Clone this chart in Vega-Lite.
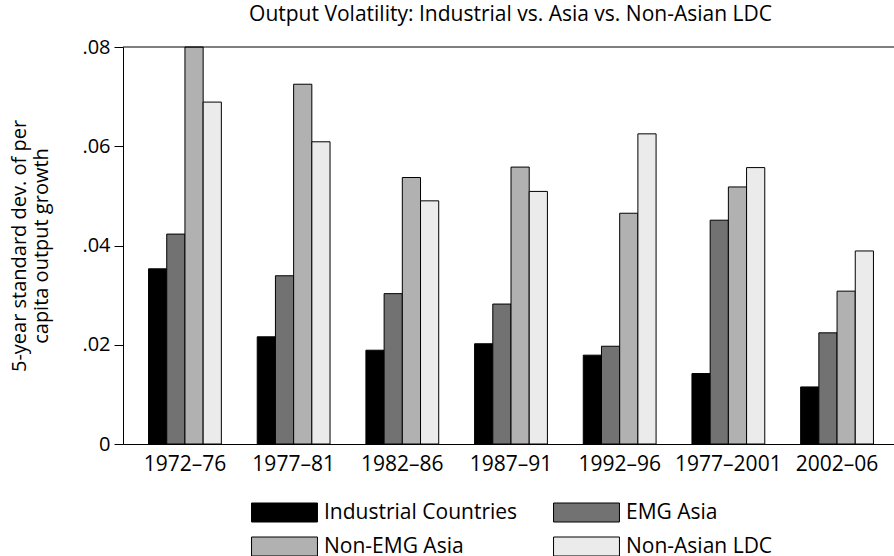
{
  "$schema": "https://vega.github.io/schema/vega-lite/v6.json",
  "autosize": "none",
  "padding": {"left": 123, "top": 47, "right": 0, "bottom": 112},
  "width": 771,
  "height": 397,
  "background": "white",
  "config": {"view": {"stroke": null}, "font": "Open Sans"},
  "title": {"text": "Output Volatility: Industrial vs. Asia vs. Non-Asian LDC", "fontSize": 21, "fontWeight": "normal", "color": "black", "anchor": "middle", "offset": 12, "dx": 2},
  "layer": [
    {
      "data": {"values": [
        {"period": "1972–76", "group": "Industrial Countries", "value": 0.0353},
        {"period": "1972–76", "group": "EMG Asia", "value": 0.0423},
        {"period": "1972–76", "group": "Non-EMG Asia", "value": 0.0800},
        {"period": "1972–76", "group": "Non-Asian LDC", "value": 0.0689},
        {"period": "1977–81", "group": "Industrial Countries", "value": 0.0216},
        {"period": "1977–81", "group": "EMG Asia", "value": 0.0339},
        {"period": "1977–81", "group": "Non-EMG Asia", "value": 0.0725},
        {"period": "1977–81", "group": "Non-Asian LDC", "value": 0.0609},
        {"period": "1982–86", "group": "Industrial Countries", "value": 0.0189},
        {"period": "1982–86", "group": "EMG Asia", "value": 0.0303},
        {"period": "1982–86", "group": "Non-EMG Asia", "value": 0.0537},
        {"period": "1982–86", "group": "Non-Asian LDC", "value": 0.0490},
        {"period": "1987–91", "group": "Industrial Countries", "value": 0.0202},
        {"period": "1987–91", "group": "EMG Asia", "value": 0.0282},
        {"period": "1987–91", "group": "Non-EMG Asia", "value": 0.0558},
        {"period": "1987–91", "group": "Non-Asian LDC", "value": 0.0509},
        {"period": "1992–96", "group": "Industrial Countries", "value": 0.0179},
        {"period": "1992–96", "group": "EMG Asia", "value": 0.0197},
        {"period": "1992–96", "group": "Non-EMG Asia", "value": 0.0465},
        {"period": "1992–96", "group": "Non-Asian LDC", "value": 0.0625},
        {"period": "1977–2001", "group": "Industrial Countries", "value": 0.0142},
        {"period": "1977–2001", "group": "EMG Asia", "value": 0.0451},
        {"period": "1977–2001", "group": "Non-EMG Asia", "value": 0.0518},
        {"period": "1977–2001", "group": "Non-Asian LDC", "value": 0.0557},
        {"period": "2002–06", "group": "Industrial Countries", "value": 0.0115},
        {"period": "2002–06", "group": "EMG Asia", "value": 0.0224},
        {"period": "2002–06", "group": "Non-EMG Asia", "value": 0.0308},
        {"period": "2002–06", "group": "Non-Asian LDC", "value": 0.0389}
      ]},
      "mark": {"type": "bar", "stroke": "black", "strokeWidth": 1},
      "encoding": {
        "x": {
          "field": "period", "type": "nominal",
          "sort": ["1972–76", "1977–81", "1982–86", "1987–91", "1992–96", "1977–2001", "2002–06"],
          "scale": {"range": [0, 776], "paddingInner": 0.33, "paddingOuter": 0.235},
          "axis": {"title": null, "labelAngle": 0, "ticks": false, "labelFontSize": 21, "labelColor": "black", "labelPadding": 9, "domainColor": "black", "domainWidth": 1}
        },
        "xOffset": {
          "field": "group", "type": "nominal",
          "sort": ["Industrial Countries", "EMG Asia", "Non-EMG Asia", "Non-Asian LDC"],
          "scale": {"paddingInner": 0, "paddingOuter": 0}
        },
        "y": {
          "field": "value", "type": "quantitative",
          "scale": {"domain": [0, 0.08], "nice": false},
          "axis": {
            "values": [0, 0.02, 0.04, 0.06, 0.08],
            "labelExpr": "datum.value == 0 ? '0' : replace(format(datum.value, '.2f'), '0.', '.')",
            "grid": false, "tickSize": 9, "tickColor": "black", "domainColor": "black",
            "labelFontSize": 20, "labelColor": "black", "labelPadding": 4,
            "title": ["5-year standard dev. of per", "capita output growth"],
            "titleFontSize": 20, "titleFontWeight": "normal", "titleColor": "black", "titleLineHeight": 22, "titlePadding": 30
          }
        },
        "color": {
          "field": "group", "type": "nominal",
          "sort": ["Industrial Countries", "EMG Asia", "Non-EMG Asia", "Non-Asian LDC"],
          "scale": {"domain": ["Industrial Countries", "EMG Asia", "Non-EMG Asia", "Non-Asian LDC"], "range": ["#000000", "#727272", "#b1b1b1", "#ebebeb"]},
          "legend": {
            "title": null, "orient": "none", "legendX": 151, "legendY": 455, "direction": "horizontal", "columns": 2,
            "symbolType": "M-3.47,-1H3.47V1H-3.47Z", "symbolSize": 361, "symbolStrokeColor": "black", "symbolStrokeWidth": 1, "symbolOpacity": 1,
            "labelFontSize": 21, "labelColor": "black", "labelOffset": 29, "columnPadding": 33, "rowPadding": 11, "padding": 0, "labelLimit": 400
          }
        }
      }
    },
    {
      "data": {"values": [{}]},
      "mark": {"type": "rule", "color": "black", "strokeWidth": 1},
      "encoding": {"y": {"datum": 0.08}}
    }
  ]
}
